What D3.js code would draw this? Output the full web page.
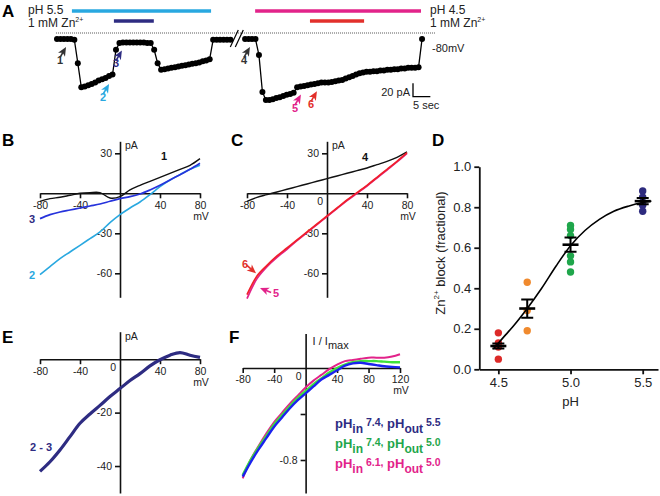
<!DOCTYPE html>
<html>
<head>
<meta charset="utf-8">
<script src="https://cdn.jsdelivr.net/npm/d3@7"></script>
<style>
  body { margin: 0; background: #fff; }
  svg text { font-family: "Liberation Sans", Arial, Helvetica, sans-serif; fill: #222; }
</style>
</head>
<body>
<svg id="fig" width="660" height="496"></svg>
<script>
// ---------- data ----------

// A: whole-cell current at -80 mV, one sample per second (pA)
var traceA1 = [-9, -9, -9, -9, -9, -10, -45, -81, -80, -78, -76, -74, -71, -69, -67, -64, -62,
  -25, -15, -14, -14, -14, -14, -14, -14, -14, -15, -15, -25, -45, -55, -54, -53, -52, -51,
  -50, -49, -48, -47, -46, -45, -44, -42, -41, -39, -10, -10, -10, -10, -10, -10];
var traceA2 = [-9, -9, -9, -9, -33, -88, -100, -100, -99, -97, -96, -94, -92, -91, -89, -81,
  -80, -79, -78, -77, -76, -75, -74, -74, -74, -73, -72, -71, -70, -68, -66, -64, -62, -60,
  -59, -58, -58, -57, -57, -56, -56, -55, -55, -54, -54, -53, -53, -52, -52, -52, -51, -9];
var seg2Start = 54.2;                 // time after the break (s)
var phPulse = [[4.3, 44.4], [2.9, 50.7]];   // per segment, s
var znPulse = [[16.4, 27.9], [18.7, 34.3]];
var sweepNames = ["1", "2", "3", "4", "5", "6"];
var sweepSeg = [0, 0, 0, 1, 1, 1];
var sweepTime = [2.6, 15, 18.7, 1.4, 16.1, 20.7];

// B, C, E: I-V ramps (pA)
var mv = [-80, -70, -60, -50, -40, -30, -20, -10, 0, 10, 20, 30, 40, 50, 60, 70, 80];
var ivB1 = [-6, -4, -3, -1.5, 0, 0.5, 0.5, -3.5, -2.5, 2.5, 6, 9, 12, 15, 18, 21, 26];
var ivB2 = [-61, -55, -49, -44, -39, -34, -29, -22, -16, -11, -6.5, -1, 5, 10, 14, 18, 21];
var ivB3 = [-19, -16, -14, -12.5, -11, -9.5, -8, -6, -4, -2.5, -0.5, 2.5, 6, 10, 14, 18, 22.5];
var ivC4 = [-6, -3, -1, 1, 3, 5, 7, 9, 11, 13, 15, 17, 19, 21.5, 24, 27, 31];
var ivC5 = [-79, -64, -55, -48, -42, -35.5, -29.5, -23.5, -17.5, -11.5, -5.5, 0, 5.5, 11.5, 17.5, 23.5, 30];
var ivC6 = [-76, -62, -54, -47, -41, -35, -29, -23, -17, -11, -5, 0.5, 6, 12, 18, 24, 30.5];
var ivE = [-42, -38.4, -34, -29, -24, -20.5, -17.3, -14, -11, -8, -5.4, -2.5, -0.2, 1.5, 2.5, 1.5, 0.7];

// F: normalised I-V
var mvF = [-80, -70, -60, -50, -40, -30, -20, -10, 0, 10, 20, 30, 40, 50, 60, 70, 80, 90, 100, 110, 120];
var ivF55 = [-0.945, -0.82, -0.71, -0.61, -0.51, -0.43, -0.35, -0.28, -0.22, -0.16, -0.10, -0.06, -0.02, 0.02, 0.04, 0.045, 0.035, 0.025, 0.015, 0.01, 0.005];
var ivF50 = [-0.93, -0.80, -0.69, -0.59, -0.49, -0.41, -0.33, -0.26, -0.20, -0.14, -0.09, -0.04, 0.0, 0.03, 0.05, 0.06, 0.06, 0.06, 0.055, 0.05, 0.05];
var ivF61 = [-0.96, -0.80, -0.68, -0.57, -0.47, -0.39, -0.31, -0.24, -0.17, -0.11, -0.06, -0.01, 0.03, 0.06, 0.07, 0.08, 0.09, 0.09, 0.09, 0.10, 0.12];
var legendPin = ["7.4", "7.4", "6.1"];
var legendPout = ["5.5", "5.0", "5.0"];

// D: fractional Zn2+ block vs pH
var phLevels = [4.5, 4.7, 5.0, 5.5];
var block45 = [0.18, 0.13, 0.11, 0.05];
var block47 = [0.43, 0.29, 0.19];
var block50 = [0.71, 0.69, 0.66, 0.56, 0.53, 0.48];
var block55 = [0.88, 0.85, 0.81, 0.78];
var blockMean = [0.115, 0.30, 0.615, 0.83];
var blockSem = [0.012, 0.045, 0.035, 0.015];
var fitPH = [4.465, 4.55, 4.6, 4.7, 4.8, 4.9, 5.0, 5.1, 5.2, 5.3, 5.4, 5.5, 5.56];
var fitBlock = [0.10, 0.17, 0.21, 0.30, 0.40, 0.51, 0.61, 0.685, 0.74, 0.78, 0.805, 0.823, 0.83];

// ---------- colours ----------
var cCyan = "#29a8e0", cNavy = "#2e2c82", cMag = "#e2238a", cRed = "#e2302b",
    cBlue = "#2633dc", cGrey = "#333";

var svg = d3.select("#fig");

function txt(g, x, y, s, o) {
  o = o || {};
  return g.append("text").attr("x", x).attr("y", y)
    .attr("font-size", o.size || 11)
    .attr("font-weight", o.bold ? "bold" : null)
    .attr("text-anchor", o.anchor || "start")
    .style("fill", o.color || "#222")
    .text(s);
}

function arrow(g, x, y, angle, color) {
  var a = g.append("g").attr("transform", "translate(" + x + "," + y + ") rotate(" + angle + ")");
  a.append("path").attr("d", "M0,0 L-4,9 L0,6.5 L4,9 Z").attr("fill", color);
  a.append("line").attr("x1", 0).attr("y1", 6).attr("x2", 0).attr("y2", 12)
    .attr("stroke", color).attr("stroke-width", 1.6);
}

// panel letters
[["A", 2, 17], ["B", 2, 146], ["C", 231, 146], ["D", 432, 146], ["E", 2, 343], ["F", 229, 343]]
  .forEach(function (d) { txt(svg, d[1], d[2], d[0], { size: 17, bold: true, color: "#000" }); });

// ---------- A ----------
var gA = svg.append("g");
var xA = d3.scaleLinear().domain([0, 106]).range([57, 57 + 106 * 3.47]);
var yA = d3.scaleLinear().domain([0, -100]).range([33, 100]);
var segOffset = [0, seg2Start];

gA.append("line").attr("x1", xA(-0.3)).attr("x2", xA(109.2))
  .attr("y1", yA(0)).attr("y2", yA(0))
  .attr("stroke", "#555").attr("stroke-width", 1).attr("stroke-dasharray", "1,1");

phPulse.forEach(function (p, i) {
  gA.append("line").attr("x1", xA(p[0] + segOffset[i])).attr("x2", xA(p[1] + segOffset[i]))
    .attr("y1", 11).attr("y2", 11).attr("stroke", i ? cMag : cCyan).attr("stroke-width", 3.5);
});
znPulse.forEach(function (p, i) {
  gA.append("line").attr("x1", xA(p[0] + segOffset[i])).attr("x2", xA(p[1] + segOffset[i]))
    .attr("y1", 21).attr("y2", 21).attr("stroke", i ? cRed : cNavy).attr("stroke-width", 3.5);
});

function znLabel(x, y) {
  var t = txt(gA, x, y, "1 mM Zn", { size: 12 });
  t.append("tspan").attr("font-size", 7).attr("dy", -5).text("2+");
}
txt(gA, 28, 14, "pH 5.5", { size: 12 });
znLabel(28, 27);
txt(gA, 430, 14, "pH 4.5", { size: 12 });
znLabel(430, 27);
txt(gA, 432, 52, "-80mV", { size: 11 });

var lineA = d3.line().x(function (d) { return xA(d[0]); }).y(function (d) { return yA(d[1]); });
[traceA1, traceA2].forEach(function (tr, i) {
  var pts = tr.map(function (v, k) { return [k + segOffset[i], v]; });
  gA.append("path").attr("d", lineA(pts)).attr("fill", "none")
    .attr("stroke", "#000").attr("stroke-width", 1.3);
  gA.selectAll(null).data(pts).enter().append("circle")
    .attr("cx", function (d) { return xA(d[0]); })
    .attr("cy", function (d) { return yA(d[1]); })
    .attr("r", 3).attr("fill", "#000");
});

// axis break
var bx = (xA(traceA1.length - 1) + xA(seg2Start)) / 2;
[-7.5, -2.5].forEach(function (o) {
  gA.append("line").attr("x1", bx + o).attr("y1", 47).attr("x2", bx + o + 8).attr("y2", 30)
    .attr("stroke", "#000").attr("stroke-width", 1.2);
});

// sweep markers
var sweepColor = [cGrey, cCyan, cNavy, cGrey, cMag, cRed];
sweepNames.forEach(function (n, i) {
  var tr = sweepSeg[i] ? traceA2 : traceA1;
  var t = sweepTime[i];
  var x = xA(t + segOffset[sweepSeg[i]]);
  var y = yA(tr[Math.round(t)]) + 8;
  arrow(gA, x, y, 30, sweepColor[i]);
  txt(gA, x - 9, y + 17, n, { size: 11, bold: true, color: sweepColor[i] });
});

// scale bar
var sbx = 413, sby = 96.7;
gA.append("path")
  .attr("d", "M" + sbx + "," + (sby - (yA(-20) - yA(0))) + "V" + sby + "H" + (sbx + xA(5) - xA(0)))
  .attr("fill", "none").attr("stroke", "#000").attr("stroke-width", 1.3);
txt(gA, sbx - 3, sby - 1, "20 pA", { size: 11, anchor: "end" });
txt(gA, sbx, sby + 12, "5 sec", { size: 11 });

// ---------- I-V helper ----------
function ivAxes(x, y, o) {
  var g = svg.append("g");
  var ax = g.append("g").attr("transform", "translate(0," + y(0) + ")")
    .call(d3.axisBottom(x).tickValues(o.xTicks).tickSize(5).tickSizeOuter(0)
      .tickFormat(function (d) { return String(d); }));
  var ay = g.append("g").attr("transform", "translate(" + x(0) + ",0)")
    .call(d3.axisLeft(y).tickValues(o.yTicks).tickSize(5).tickSizeOuter(0)
      .tickFormat(o.yFormat || function (d) { return String(d); }));
  [ax, ay].forEach(function (a) {
    a.attr("font-size", o.font || 10.5).attr("font-family", null);
    a.selectAll(".domain, .tick line").attr("stroke", "#111").attr("stroke-width", 1.6);
    a.selectAll(".tick text").style("fill", "#222");
  });
  txt(g, x(o.xTicks[o.xTicks.length - 1]) + 1, y(0) + 26.5, "mV", { size: 10.5, anchor: "middle" });
  if (o.zero) txt(g, x(0) - 4, y(0) + 12, "0", { size: 10.5, anchor: "end" });
  if (o.unit) txt(g, x(0) + 5, y.range()[1] + 8, o.unit, { size: 10.5 });
  return g;
}
function trace(g, x, y, xs, vals, color, w) {
  var line = d3.line().x(function (d, i) { return x(xs[i]); }).y(function (d) { return y(d); })
    .curve(d3.curveCatmullRom);
  g.append("path").attr("d", line(vals)).attr("fill", "none")
    .attr("stroke", color).attr("stroke-width", w || 1.5).attr("stroke-linejoin", "round");
}

// ---------- B ----------
var xB = d3.scaleLinear().domain([-80, 80]).range([40, 200]);
var yB = d3.scaleLinear().domain([-78, 39]).range([297.3, 141.3]);
var gB = ivAxes(xB, yB, { xTicks: [-80, -40, 40, 80], yTicks: [-60, -30, 30], unit: "pA" });
trace(gB, xB, yB, mv, ivB2, cCyan, 1.6);
trace(gB, xB, yB, mv, ivB3, cBlue, 1.7);
trace(gB, xB, yB, mv, ivB1, "#111", 1.4);
txt(gB, xB(41), yB(25), "1", { bold: true, color: "#111" });
txt(gB, xB(-91), yB(ivB3[0]) + 4.5, "3", { bold: true, color: cNavy });
txt(gB, xB(-91), yB(ivB2[0]) + 4, "2", { bold: true, color: cCyan });

// ---------- C ----------
var xC = d3.scaleLinear().domain([-80, 80]).range([247, 407]);
var yC = d3.scaleLinear().domain([-78, 39]).range([297.3, 141.3]);
var gC = ivAxes(xC, yC, { xTicks: [-80, -40, 40, 80], yTicks: [-60, -30, 30], unit: "pA", zero: true });
trace(gC, xC, yC, mv, ivC4, "#111", 1.4);
trace(gC, xC, yC, mv, ivC5, cMag, 1.7);
trace(gC, xC, yC, mv, ivC6, "#f0202a", 1.7);
txt(gC, xC(35), yC(24), "4", { bold: true, color: "#111" });
txt(gC, xC(-85), yC(-56), "6", { bold: true, color: cRed });
arrow(gC, xC(-71), yC(-60), 131, cRed);
txt(gC, xC(-54), yC(-78), "5", { bold: true, color: cMag });
arrow(gC, xC(-67), yC(-71), -68, cMag);

// ---------- E ----------
var xE = d3.scaleLinear().domain([-80, 80]).range([40, 200]);
var yE = d3.scaleLinear().domain([-50.1, 10.3]).range([493, 331.7]);
var gE = ivAxes(xE, yE, { xTicks: [-80, -40, 40, 80], yTicks: [-40, -20], unit: "pA", zero: true });
trace(gE, xE, yE, mv, ivE, cNavy, 3.2);
txt(gE, xE(-90), yE(-34.5), "2 - 3", { bold: true, color: cNavy });

// ---------- F ----------
var xF = d3.scaleLinear().domain([-80, 120]).range([242.7, 400]);
var yF = d3.scaleLinear().domain([-1.087, 0.30]).range([493, 333.5]);
var gF = ivAxes(xF, yF, {
  xTicks: [-80, -40, 40, 80, 120], yTicks: [-0.8, -0.4], zero: true,
  yFormat: function (d) { return d === -0.8 ? "-0.8" : ""; }
});
trace(gF, xF, yF, mvF, ivF61, cMag, 2);
trace(gF, xF, yF, mvF, ivF50, "#3ee23a", 2.4);
trace(gF, xF, yF, mvF, ivF55, "#1b22ee", 2.4);
var tl = txt(gF, xF(0) + 7, yF.range()[1] + 11, "I / I", { size: 11 });
tl.append("tspan").attr("dy", 4).text("max");

var legColor = [cNavy, "#1fa64b", cMag];
legendPin.forEach(function (p, i) {
  var t = gF.append("text").attr("x", 335).attr("y", 428 + i * 20)
    .attr("font-weight", "bold").style("fill", legColor[i]);
  t.append("tspan").attr("font-size", 13).text("pH");
  t.append("tspan").attr("font-size", 12).attr("dy", 5).text("in");
  t.append("tspan").attr("font-size", 10.5).attr("dy", -7).text(" " + p + ",");
  t.append("tspan").attr("font-size", 13).attr("dy", 2).text(" pH");
  t.append("tspan").attr("font-size", 12).attr("dy", 5).text("out");
  t.append("tspan").attr("font-size", 10.5).attr("dy", -7).text(" " + legendPout[i]);
});

// ---------- D ----------
var gD = svg.append("g");
var xD = d3.scaleLinear().domain([4.368, 5.606]).range([479.3, 658]);
var yD = d3.scaleLinear().domain([0, 1]).range([369.3, 166.7]);
var axD = gD.append("g").attr("transform", "translate(0," + yD(0) + ")")
  .call(d3.axisBottom(xD).tickValues([4.5, 5.0, 5.5]).tickSize(5).tickSizeOuter(0).tickFormat(d3.format(".1f")));
var ayD = gD.append("g").attr("transform", "translate(" + xD.range()[0] + ",0)")
  .call(d3.axisLeft(yD).tickValues([0, 0.2, 0.4, 0.6, 0.8, 1.0]).tickSize(5).tickSizeOuter(0).tickFormat(d3.format(".1f")));
[axD, ayD].forEach(function (a) {
  a.attr("font-size", 13).attr("font-family", null);
  a.selectAll(".domain, .tick line").attr("stroke", "#111").attr("stroke-width", 1.8);
  a.selectAll(".tick text").style("fill", "#222");
});
txt(gD, xD(5.0), 406, "pH", { size: 13, anchor: "middle" });
var yl = gD.append("text").attr("transform", "translate(445,253) rotate(-90)")
  .attr("text-anchor", "middle").attr("font-size", 13);
yl.append("tspan").text("Zn");
yl.append("tspan").attr("font-size", 8).attr("dy", -6).text("2+");
yl.append("tspan").attr("dy", 6).text(" block (fractional)");

var dotColor = ["#dc2a28", "#f08a2e", "#1fa64b", "#2d2a7e"];
[block45, block47, block50, block55].forEach(function (vals, i) {
  gD.selectAll(null).data(vals).enter().append("circle")
    .attr("cx", xD(phLevels[i])).attr("cy", function (d) { return yD(d); })
    .attr("r", 3.7).attr("fill", dotColor[i]);
});
gD.append("path")
  .attr("d", d3.line().x(function (d, i) { return xD(fitPH[i]); }).y(function (d) { return yD(d); })
    .curve(d3.curveMonotoneX)(fitBlock))
  .attr("fill", "none").attr("stroke", "#000").attr("stroke-width", 1.6);
blockMean.forEach(function (m, i) {
  var x = xD(phLevels[i]);
  var lo = yD(m - blockSem[i]), hi = yD(m + blockSem[i]);
  gD.append("path")
    .attr("d", "M" + (x - 6) + "," + lo + "H" + (x + 6) + "M" + (x - 6) + "," + hi + "H" + (x + 6) +
      "M" + x + "," + lo + "V" + hi)
    .attr("fill", "none").attr("stroke", "#000").attr("stroke-width", 2);
  gD.append("line").attr("x1", x - 8).attr("x2", x + 8).attr("y1", yD(m)).attr("y2", yD(m))
    .attr("stroke", "#000").attr("stroke-width", 2.6);
});
</script>
</body>
</html>
